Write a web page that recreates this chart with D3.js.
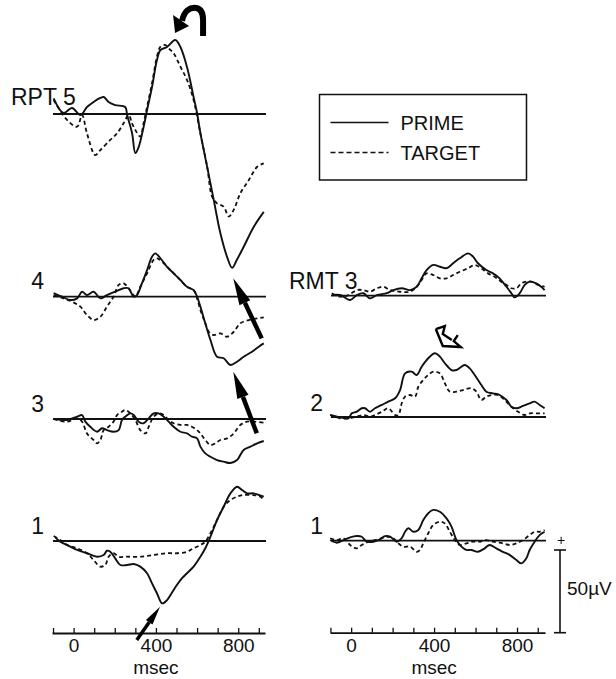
<!DOCTYPE html>
<html>
<head>
<meta charset="utf-8">
<script src="https://cdn.jsdelivr.net/npm/d3@7"></script>
<style>
  body { margin: 0; background: #fff; }
  svg { display: block; font-family: "Liberation Sans", Arial, Helvetica, sans-serif; }
</style>
</head>
<body>
<div id="chart"></div>
<script>
// ERP waveforms, each point is [msec, microvolts] (positive drawn upward)
const rpt5Prime = [[-97,9.5],[-49,0.6],[-8,3.6],[33,-0.6],[65,4.2],[97,7.3],[130,9.7],[146,10.3],[170,7.3],[202,5.4],[251,4.2],[260,-0.6],[284,-11.5],[300,-23.6],[316,-20],[340,-7.9],[357,2.4],[381,16.3],[405,32.6],[422,38.7],[454,40.5],[494,44.7],[519,40.5],[551,28.4],[583,10.3],[600,0.6],[616,-11.5],[649,-32],[681,-52],[713,-72],[746,-86.5],[770,-93],[794,-88],[826,-80.4],[875,-68.3],[924,-59.2]];
const rpt5Target = [[-97,8.5],[-32,-3.6],[17,-7.7],[41,-0.6],[65,-11.7],[105,-24.8],[130,-21.8],[178,-15.7],[211,-11.7],[243,-5.6],[267,-0.6],[284,-5.6],[300,-9.7],[324,-13.7],[340,-5.6],[357,4.4],[381,18.5],[405,34.7],[422,40.7],[446,41.7],[462,39.7],[486,36.7],[519,28.6],[551,20.6],[583,8.5],[616,-11.7],[649,-31.9],[673,-50],[697,-54],[729,-56],[754,-62],[778,-58],[810,-48],[851,-40],[892,-31.9],[924,-29.8]];

const rpt4Prime = [[-97,2.1],[-56,0],[-16,-2],[17,-1],[41,3],[65,1],[97,3],[130,-1],[162,1],[202,3],[243,5.1],[267,5.1],[292,0],[308,1],[332,8.1],[357,16.1],[381,24.2],[397,26.2],[422,23.2],[454,18.1],[486,14.1],[519,10.1],[551,6],[583,4],[600,0],[616,-6],[640,-16.1],[665,-26.2],[697,-36.3],[729,-37.2],[762,-41.3],[794,-39.3],[826,-36.3],[867,-33.3],[900,-30.2],[924,-28.2]];
const rpt4Target = [[-97,1],[-49,-1],[-8,-3],[33,-6],[65,-11.1],[97,-14.1],[130,-12.1],[162,-6],[194,0],[219,7.1],[243,8.1],[284,2.1],[300,0],[324,6],[357,14.1],[389,22.2],[405,23.2],[438,20.2],[470,16.1],[503,12.1],[551,6],[583,4],[600,-1],[616,-8],[640,-16.1],[657,-21.2],[681,-23.2],[713,-22.2],[746,-24.2],[778,-21.2],[810,-16.1],[851,-14.1],[892,-13.1],[924,-12.5]];

const rpt3Prime = [[-97,0],[-32,-0.6],[17,1.4],[41,2.4],[57,-1.6],[81,-4.7],[114,-7.7],[138,-5.6],[162,-6.7],[194,-7.7],[219,-6.7],[235,-0.6],[251,1.4],[276,3.4],[292,2.4],[316,-1.6],[340,-2.6],[365,0.4],[389,3.4],[413,3.4],[438,1.4],[462,-1.6],[486,-4.7],[519,-7.7],[551,-8.7],[575,-10.7],[600,-11.7],[616,-16.7],[640,-20.8],[665,-22.8],[697,-24.8],[729,-25.8],[762,-26.6],[794,-24.8],[826,-18.7],[859,-16.7],[892,-14.7],[924,-13.3]];
const rpt3Target = [[-97,0],[-32,-1.6],[17,0.4],[41,-1.6],[65,-8.7],[97,-12.7],[114,-14.7],[130,-12.7],[146,-6.7],[170,-4.7],[194,-1.6],[211,2.4],[235,4.4],[251,5.4],[276,3.4],[300,-0.6],[324,-6.7],[349,-8.7],[365,-4.7],[389,1.4],[413,3.4],[438,2.4],[462,-0.6],[486,-2.6],[519,-3.6],[551,-3.6],[575,-4.7],[600,-6.7],[616,-8.7],[640,-12.7],[665,-15.7],[689,-14.7],[713,-12.7],[746,-11.7],[778,-8.7],[810,-3.6],[843,-1.6],[875,-1.6],[924,-2.2]];

const rpt1Prime = [[-89,2.2],[-65,-0.4],[-32,-2.4],[17,-5.4],[65,-7.4],[114,-9.5],[146,-8.5],[162,-5.9],[178,-6.5],[202,-10.5],[227,-14.5],[260,-14.5],[292,-13.9],[324,-15.5],[357,-19.5],[381,-25.6],[405,-31.6],[430,-37.7],[454,-35.7],[486,-29.6],[519,-23.6],[551,-19.5],[583,-15.5],[616,-9.5],[640,-4.4],[665,2.6],[697,12.7],[729,20.7],[762,28.8],[794,32.8],[819,30.8],[843,28.8],[875,28.8],[900,27.8],[924,26.8]];
const rpt1Target = [[-97,3],[-65,0.6],[-32,-2.4],[17,-4.4],[65,-7.4],[97,-11.5],[130,-15.5],[154,-14.5],[170,-9.5],[194,-7.4],[219,-9.5],[260,-9.5],[324,-9.5],[389,-8.5],[454,-7.4],[503,-7.4],[551,-6.5],[583,-4.4],[616,-2.4],[640,-0.4],[665,4.7],[697,12.7],[729,20.7],[762,24.8],[794,26.8],[826,27.8],[875,27.8],[908,26.8],[924,24.8]];

const rmt3Prime = [[-93,0.4],[-53,0.4],[-5,-2.6],[27,0.4],[59,1.5],[91,-1.6],[124,0.4],[172,1.5],[203,3.4],[244,4.5],[284,3.4],[316,5.4],[340,10.5],[364,15.5],[396,18.6],[428,17.5],[460,16.6],[492,19.6],[524,22.6],[564,25.6],[588,23.6],[612,19.6],[652,15.5],[684,13.5],[716,10.5],[749,5.4],[773,1.5],[788,-1],[813,1.5],[837,6.5],[861,8.5],[893,7.5],[917,5.4],[933,3.4]];
const rmt3Target = [[-93,1.5],[-53,-0.6],[-13,0.4],[27,3.4],[59,3.4],[91,2.4],[124,4.5],[156,5.4],[188,3.4],[236,2.4],[284,2.4],[316,5.4],[340,9.5],[364,13.5],[396,12.5],[428,10.5],[460,10.5],[492,12.5],[524,14.5],[564,16.6],[596,18.6],[628,16.6],[660,13.5],[692,11.5],[724,8.5],[749,6.5],[773,4.5],[797,4.5],[821,7.5],[845,8.5],[869,8.5],[901,6.5],[933,5.4]];

const rmt2Prime = [[-101,1.2],[-53,-0.2],[-13,-0.8],[3,2.2],[27,3.2],[51,5.3],[67,5.3],[91,3.2],[115,5.3],[148,7.3],[179,9.3],[212,11.3],[236,16.3],[260,26.4],[292,27.4],[316,25.4],[340,30.4],[372,35.5],[404,38.5],[428,36.5],[452,32.5],[484,28.4],[508,28.4],[532,30.4],[548,31.4],[572,29.4],[596,25.4],[628,19.3],[652,15.3],[684,14.3],[716,13.3],[749,10.3],[773,6.2],[797,5.3],[829,6.7],[861,8.3],[885,9.3],[909,7.3],[933,5.3]];
const rmt2Target = [[-101,1.2],[-53,-0.8],[-13,-0.8],[27,0.2],[59,1.2],[91,0.2],[115,1.2],[148,3.2],[179,5.3],[212,1.2],[228,1.2],[244,8.3],[260,12.3],[284,13.3],[308,12.3],[324,18.3],[348,22.4],[372,25.4],[396,27.4],[428,26.4],[452,20.4],[476,15.3],[508,15.3],[540,16.3],[580,17.4],[604,15.3],[628,10.3],[652,12.3],[676,13.3],[708,13.3],[740,10.3],[773,6.2],[805,3.2],[837,1.2],[861,2.2],[901,2.2],[933,2.2]];

const rmt1Prime = [[-101,0.4],[-69,-1.2],[-37,0.4],[-5,2],[27,2.8],[51,2.4],[75,-0.6],[107,-0.6],[139,0.8],[163,2.8],[188,2.4],[220,-0.6],[244,1.5],[260,5.4],[276,7.5],[300,5.4],[324,6.5],[348,12.5],[372,16.6],[396,18.6],[428,17.5],[460,13.5],[484,8.5],[508,0.4],[532,-3.6],[556,-5.6],[580,-5.6],[612,-6.7],[644,-4.6],[668,-2.6],[700,-4.6],[732,-6.7],[764,-8.6],[797,-11.7],[821,-13.7],[845,-10.6],[861,-5.6],[885,-0.6],[909,3.4],[933,5.4]];
const rmt1Target = [[-101,1.5],[-69,0.4],[-37,1.5],[-5,-2.6],[27,-4.6],[51,-2.6],[83,-0.6],[115,0.4],[148,1.5],[179,2.4],[203,1.5],[228,-1.6],[252,-3.6],[284,-3.6],[316,-6.7],[332,-5.6],[348,-1.6],[372,4.5],[396,9.5],[428,11.5],[452,10.5],[476,5.4],[500,0.4],[524,-2.6],[556,-1.6],[588,-0.6],[620,-0.6],[652,0.4],[684,-0.6],[732,-1.6],[764,-2.6],[797,-1.6],[829,0.4],[861,3.4],[885,5.4],[909,5.4],[933,6.5]];

const leftLabels = ["RPT 5", "4", "3", "1"];
const rightLabels = ["RMT 3", "2", "1"];
const seriesNames = ["PRIME", "TARGET"];
const tickValues = d3.range(-100, 901, 100);
const tickLabels = [0, 400, 800];
const scaleBarUV = 50;

// annotation arrows: [panel, tip ms, tip uV, tail ms, tail uV]
const leftArrows = [[1, 776, 11.1, 914, -25.2], [2, 776, 28.6, 890, -8.6]];
const bottomArrow = [3, 420, -39.7, 307, -59.9];

// layout
const width = 616, height = 679;
const pxPerUV = 82.7 / 50;
const leftCol = { x0: 52, x1: 265, dom: [-105, 930], bases: [114, 296.7, 419, 541], axisY: 633 };
const rightCol = { x0: 330, x1: 545, dom: [-102, 935], bases: [295.7, 417, 540.7], axisY: 632.7 };

const svg = d3.select("#chart")
  .append("svg")
  .attr("width", width)
  .attr("height", height);

const xLeft = d3.scaleLinear().domain(leftCol.dom).range([leftCol.x0, leftCol.x1]);
const xRight = d3.scaleLinear().domain(rightCol.dom).range([rightCol.x0, rightCol.x1]);

function yFor(base) {
  return d3.scaleLinear().domain([0, 50]).range([base, base - 50 * pxPerUV]);
}

function drawPanel(x, base, prime, target) {
  const y = yFor(base);
  const g = svg.append("g");
  g.append("line")
    .attr("x1", x.range()[0] + 1).attr("x2", x.range()[1] + 1)
    .attr("y1", y(0)).attr("y2", y(0))
    .attr("stroke", "#111").attr("stroke-width", 1.8);
  const line = d3.line()
    .x(d => x(d[0]))
    .y(d => y(d[1]))
    .curve(d3.curveCatmullRom.alpha(0.5));
  g.append("path").datum(target)
    .attr("d", line).attr("fill", "none")
    .attr("stroke", "#111").attr("stroke-width", 1.8)
    .attr("stroke-dasharray", "4,3");
  g.append("path").datum(prime)
    .attr("d", line).attr("fill", "none")
    .attr("stroke", "#111").attr("stroke-width", 1.9)
    .attr("stroke-linejoin", "round");
  return y;
}

const leftData = [[rpt5Prime, rpt5Target], [rpt4Prime, rpt4Target], [rpt3Prime, rpt3Target], [rpt1Prime, rpt1Target]];
const rightData = [[rmt3Prime, rmt3Target], [rmt2Prime, rmt2Target], [rmt1Prime, rmt1Target]];

const leftY = leftData.map((d, i) => drawPanel(xLeft, leftCol.bases[i], d[0], d[1]));
const rightY = rightData.map((d, i) => drawPanel(xRight, rightCol.bases[i], d[0], d[1]));

// panel labels
leftLabels.forEach((t, i) => {
  const first = i === 0;
  svg.append("text")
    .attr("x", first ? 11 : 44)
    .attr("y", leftCol.bases[i] - (first ? 9 : 7.5))
    .attr("text-anchor", first ? "start" : "end")
    .attr("font-size", 23)
    .attr("fill", "#111")
    .text(t);
});
rightLabels.forEach((t, i) => {
  const first = i === 0;
  svg.append("text")
    .attr("x", first ? 289 : 323)
    .attr("y", rightCol.bases[i] - 6.5)
    .attr("text-anchor", first ? "start" : "end")
    .attr("font-size", 23)
    .attr("fill", "#111")
    .text(t);
});

// time axes
function drawAxis(x, yPos) {
  const axis = d3.axisBottom(x)
    .tickValues(tickValues)
    .tickSizeInner(-5)
    .tickSizeOuter(0)
    .tickPadding(6)
    .tickFormat(d => tickLabels.includes(d) ? d : "");
  const g = svg.append("g")
    .attr("transform", `translate(0,${yPos})`)
    .call(axis);
  g.select(".domain").attr("stroke", "#111").attr("stroke-width", 1.8);
  g.selectAll(".tick line").attr("stroke", "#111").attr("stroke-width", 1.3);
  g.selectAll(".tick text")
    .attr("font-size", 19)
    .attr("font-family", "Liberation Sans, Arial, sans-serif")
    .attr("fill", "#111");
  svg.append("text")
    .attr("x", x(400))
    .attr("y", yPos + 41)
    .attr("text-anchor", "middle")
    .attr("font-size", 19)
    .attr("fill", "#111")
    .text("msec");
}
drawAxis(xLeft, leftCol.axisY);
drawAxis(xRight, rightCol.axisY);

// legend
const legend = svg.append("g").attr("transform", "translate(319.5,94.5)");
legend.append("rect")
  .attr("width", 207).attr("height", 85.5)
  .attr("fill", "none").attr("stroke", "#111").attr("stroke-width", 1.5);
seriesNames.forEach((name, i) => {
  const yy = 28 + i * 30;
  legend.append("line")
    .attr("x1", 11).attr("x2", 69).attr("y1", yy).attr("y2", yy)
    .attr("stroke", "#111").attr("stroke-width", 1.6)
    .attr("stroke-dasharray", i === 1 ? "5,3" : null);
  legend.append("text")
    .attr("x", 81).attr("y", yy + 7)
    .attr("font-size", 20).attr("fill", "#111")
    .text(name);
});

// 50 uV scale bar
const barX = 560;
const barBottom = rightCol.axisY;
const barTop = barBottom - scaleBarUV * pxPerUV;
svg.append("line").attr("x1", barX).attr("x2", barX).attr("y1", barTop).attr("y2", barBottom)
  .attr("stroke", "#111").attr("stroke-width", 1.6);
[barTop, barBottom].forEach(v => {
  svg.append("line").attr("x1", barX - 6).attr("x2", barX + 6).attr("y1", v).attr("y2", v)
    .attr("stroke", "#111").attr("stroke-width", 1.6);
});
svg.append("text").attr("x", barX + 1).attr("y", barTop - 5)
  .attr("text-anchor", "middle").attr("font-size", 14).attr("fill", "#111").text("+");
svg.append("text").attr("x", barX + 7).attr("y", (barTop + barBottom) / 2 + 4)
  .attr("font-size", 19).attr("fill", "#111").text("50\u00b5V");

// solid arrows
function arrow(x1, y1, x2, y2, headLen, headW, shaftW) {
  const dx = x2 - x1, dy = y2 - y1, L = Math.hypot(dx, dy);
  const ux = dx / L, uy = dy / L, px = -uy, py = ux;
  const bx = x1 + ux * headLen, by = y1 + uy * headLen;
  svg.append("line").attr("x1", bx).attr("y1", by).attr("x2", x2).attr("y2", y2)
    .attr("stroke", "#000").attr("stroke-width", shaftW);
  svg.append("path")
    .attr("d", `M${x1},${y1}L${bx + px * headW / 2},${by + py * headW / 2}L${bx - px * headW / 2},${by - py * headW / 2}Z`)
    .attr("fill", "#000");
}
leftArrows.forEach(a => {
  const y = leftY[a[0]];
  arrow(xLeft(a[1]), y(a[2]), xLeft(a[3]), y(a[4]), 27, 12, 4.5);
});
{
  const y = leftY[bottomArrow[0]];
  arrow(xLeft(bottomArrow[1]), y(bottomArrow[2]), xLeft(bottomArrow[3]), y(bottomArrow[4]), 19, 8, 3.5);
}

// curved arrow over the RPT 5 peak
{
  const tx = xLeft(493), ty = leftY[0](49);
  const g = svg.append("g").attr("transform", `translate(${tx},${ty})`);
  g.append("path")
    .attr("d", "M7,-12 C9,-22 15,-26 21,-25 C27,-24 28,-19 28,-13 L28,3")
    .attr("fill", "none").attr("stroke", "#000").attr("stroke-width", 6);
  g.append("path").attr("d", "M0,0 L-2,-18 L14,-7 Z").attr("fill", "#000");
}

// open arrowhead over the RMT 2 peak
{
  const tx = xRight(442), ty = rightY[1](42.9);
  svg.append("path")
    .attr("transform", `translate(${tx},${ty})`)
    .attr("d", "M-7,-17 L0,0 L18,1 L11,-5 L15,-11 M-7,-17 L2,-20 L0,-12 L9,-6")
    .attr("fill", "none").attr("stroke", "#000").attr("stroke-width", 2.4)
    .attr("stroke-linejoin", "miter");
}
</script>
</body>
</html>
